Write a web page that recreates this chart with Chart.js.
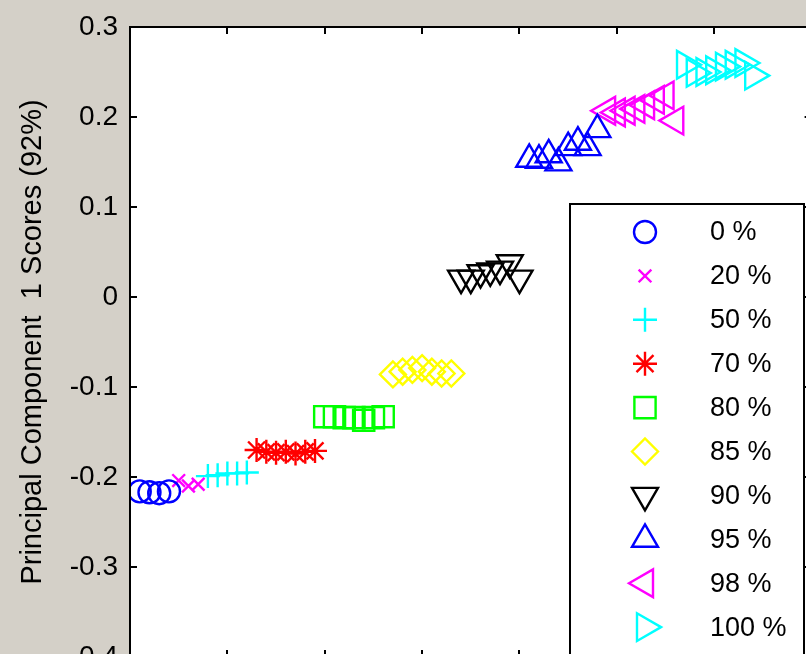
<!DOCTYPE html>
<html>
<head>
<meta charset="utf-8">
<title>Principal Component 1 Scores</title>
<script src="https://cdn.jsdelivr.net/npm/chart.js@4.4.0/dist/chart.umd.min.js"></script>
<style>
  html, body { margin: 0; padding: 0; overflow: hidden; background: #d4d0c8; }
  canvas { display: block; }
</style>
</head>
<body>
<canvas id="chart" width="830" height="680"></canvas>
<script>
// groups (legend labels)
const labels = ['0 %', '20 %', '50 %', '70 %', '80 %', '85 %', '90 %', '95 %', '98 %', '100 %'];

// sample number of every point, per group
const sampleNo = [
    [1, 2, 3, 4],
    [5, 6, 7],
    [8, 9, 10, 11, 12],
    [13, 14, 15, 16, 17, 18, 19],
    [20, 21, 22, 23, 24, 25, 26],
    [27, 28, 29, 30, 31, 32, 33],
    [34, 35, 36, 37, 38, 39, 40],
    [41, 42, 43, 44, 45, 46, 47, 48],
    [49, 50, 51, 52, 53, 54, 55, 56],
    [57, 58, 59, 60, 61, 62, 63, 64]
];

// PC1 scores, per group
const scores = [
    [-0.216, -0.217, -0.218, -0.216],
    [-0.204, -0.210, -0.208],
    [-0.199, -0.198, -0.196, -0.196, -0.195],
    [-0.170, -0.172, -0.173, -0.172, -0.174, -0.172, -0.171],
    [-0.133, -0.133, -0.134, -0.134, -0.137, -0.134, -0.133],
    [-0.086, -0.083, -0.081, -0.079, -0.083, -0.085, -0.085],
    [0.021, 0.021, 0.027, 0.029, 0.031, 0.038, 0.021],
    [0.153, 0.152, 0.158, 0.149, 0.166, 0.172, 0.166, 0.186],
    [0.207, 0.205, 0.207, 0.209, 0.213, 0.219, 0.224, 0.196],
    [0.258, 0.249, 0.250, 0.252, 0.256, 0.258, 0.260, 0.246]
];

const xTicks = [0, 10, 20, 30, 40, 50, 60, 70];
const yTicks = [-0.4, -0.3, -0.2, -0.1, 0, 0.1, 0.2, 0.3];
const yTickLabels = ['-0.4', '-0.3', '-0.2', '-0.1', '0', '0.1', '0.2', '0.3'];

// marker look (matlab style: o x + * s d v ^ < >)
const markerColors = ['#0000ff', '#ff00ff', '#00ffff', '#ff0000', '#00ff00', '#ffff00', '#000000', '#0000ff', '#ff00ff', '#00ffff'];
const markerStyles = ['circle', 'crossRot', 'cross', 'star', 'rect', 'rectRot', 'triangle', 'triangle', 'triangle', 'triangle'];
const markerRotation = [0, 0, 0, 0, 0, 0, 180, 0, 270, 90];
const markerRadius = [11, 9, 12, 12, 15, 13, 15, 15, 16, 16];

const FONT = "'Liberation Sans', Arial, sans-serif";

const datasets = labels.map((label, i) => ({
    label: label,
    data: sampleNo[i].map((x, j) => ({x: x, y: scores[i][j]})),
    showLine: false,
    pointStyle: markerStyles[i],
    pointRotation: markerRotation[i],
    pointRadius: markerRadius[i],
    pointHoverRadius: markerRadius[i],
    pointBorderWidth: 2.4,
    borderColor: markerColors[i],
    backgroundColor: 'rgba(0,0,0,0)'
}));

// white axes box, inward ticks, frame
const matlabAxes = {
    id: 'matlabAxes',
    beforeDraw(chart) {
        const {ctx, chartArea: a} = chart;
        ctx.save();
        ctx.fillStyle = '#ffffff';
        ctx.fillRect(a.left, a.top, a.right - a.left, a.bottom - a.top);
        ctx.restore();
    },
    afterDatasetsDraw(chart) {
        const {ctx, chartArea: a, scales} = chart;
        const len = 7;
        ctx.save();
        ctx.strokeStyle = '#000';
        ctx.lineWidth = 2;
        ctx.beginPath();
        yTicks.forEach(v => {
            const y = Math.round(scales.y.getPixelForValue(v));
            ctx.moveTo(a.left, y); ctx.lineTo(a.left + len, y);
            ctx.moveTo(a.right, y); ctx.lineTo(a.right - len, y);
        });
        xTicks.forEach(v => {
            const x = Math.round(scales.x.getPixelForValue(v));
            ctx.moveTo(x, a.top); ctx.lineTo(x, a.top + len);
            ctx.moveTo(x, a.bottom); ctx.lineTo(x, a.bottom - len);
        });
        ctx.stroke();
        ctx.strokeRect(a.left, a.top, a.right - a.left, a.bottom - a.top);
        ctx.restore();
    }
};

// legend box in the lower right of the axes
const boxLegend = {
    id: 'boxLegend',
    afterDraw(chart) {
        const ctx = chart.ctx;
        const left = 570, top = 204, right = 804, rowH = 43.9, firstRow = 232;
        ctx.save();
        ctx.fillStyle = '#ffffff';
        ctx.fillRect(left, top, right - left, 600);
        ctx.strokeStyle = '#000';
        ctx.lineWidth = 2;
        ctx.strokeRect(left, top, right - left, 600);
        chart.data.datasets.forEach((ds, i) => {
            const y = firstRow + i * rowH;
            ctx.strokeStyle = ds.borderColor;
            ctx.fillStyle = 'rgba(0,0,0,0)';
            ctx.lineWidth = ds.pointBorderWidth;
            Chart.helpers.drawPoint(ctx, {
                pointStyle: ds.pointStyle,
                rotation: ds.pointRotation,
                radius: ds.pointRadius,
                borderWidth: ds.pointBorderWidth
            }, 645, y);
            ctx.fillStyle = '#000';
            ctx.font = '27px ' + FONT;
            ctx.textAlign = 'left';
            ctx.textBaseline = 'middle';
            ctx.fillText(ds.label, 710, y + 1);
        });
        ctx.restore();
    }
};

new Chart(document.getElementById('chart'), {
    type: 'scatter',
    data: {datasets: datasets},
    options: {
        responsive: false,
        animation: false,
        events: [],
        layout: {padding: {left: 0, top: 27, right: 17, bottom: 23}},
        plugins: {
            legend: {display: false},
            tooltip: {enabled: false}
        },
        scales: {
            x: {
                type: 'linear',
                min: xTicks[0],
                max: xTicks[xTicks.length - 1],
                display: false
            },
            y: {
                type: 'linear',
                min: yTicks[0],
                max: yTicks[yTicks.length - 1],
                grid: {display: false, drawTicks: false},
                border: {display: false},
                afterBuildTicks: s => { s.ticks = yTicks.map(v => ({value: v})); },
                afterFit: s => {
                    s.width = 130;
                    s.paddingTop = 0;
                    s.paddingBottom = 0;
                },
                ticks: {
                    color: '#000',
                    padding: 12,
                    font: {family: FONT, size: 28},
                    callback: (v, i) => yTickLabels[i]
                },
                title: {
                    display: true,
                    text: 'Principal Component  1 Scores (92%)',
                    color: '#000',
                    font: {family: FONT, size: 29},
                    padding: {top: 16, bottom: 0}
                }
            }
        }
    },
    plugins: [matlabAxes, boxLegend]
});
</script>
</body>
</html>
